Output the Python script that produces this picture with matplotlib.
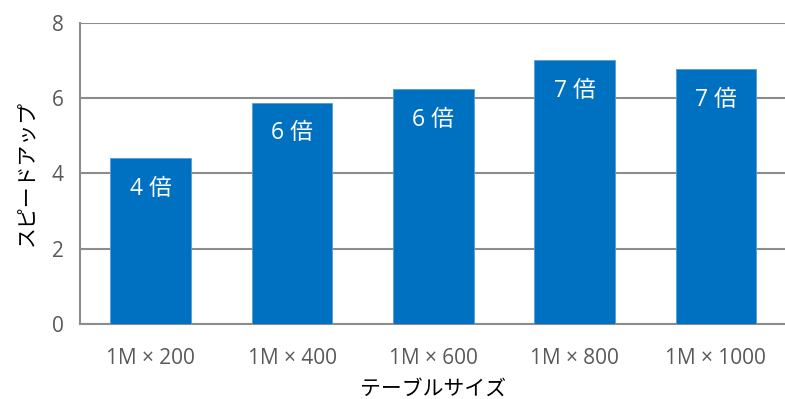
import matplotlib
matplotlib.use("Agg")
import matplotlib.pyplot as plt

plt.rcParams['font.family'] = ['Open Sans', 'Noto Sans CJK JP', 'DejaVu Sans']

categories = ["1M × 200", "1M × 400", "1M × 600", "1M × 800", "1M × 1000"]
speedup = [4.40, 5.88, 6.24, 7.01, 6.77]
labels = ["4 倍", "6 倍", "6 倍", "7 倍", "7 倍"]

fig = plt.figure(figsize=(7.85, 3.99), dpi=100)
ax = fig.add_axes([0.102, 0.188, 0.90, 0.755])

x = range(len(categories))
bars = ax.bar(x, speedup, width=0.57, color="#0070C0", edgecolor="#5B9BD5",
              linewidth=0.6, zorder=3)

for b, lab in zip(bars, labels):
    ax.text(b.get_x() + b.get_width() / 2, b.get_height() - 0.5, lab,
            ha="center", va="top", color="white", fontsize=16.5, zorder=4)

ax.set_xlim(-0.5, len(categories) - 0.5)
ax.set_ylim(0, 8)
ax.set_yticks([0, 2, 4, 6, 8])
ax.set_xticks(list(x))
ax.set_xticklabels(categories)
ax.grid(axis="y", color="#8c8c8c", linewidth=1.5, zorder=0)

for s in ["top", "right"]:
    ax.spines[s].set_visible(False)
for s in ["left", "bottom"]:
    ax.spines[s].set_color("#8c8c8c")
    ax.spines[s].set_linewidth(1.5)

ax.tick_params(axis="both", length=0, labelsize=15, colors="#595959")
ax.tick_params(axis="x", pad=17)
ax.tick_params(axis="y", pad=12)

ax.set_xlabel("テーブルサイズ", fontsize=15, color="black", labelpad=7)
ax.set_ylabel("スピードアップ", fontsize=15, color="black", labelpad=10)

fig.savefig("out.png", dpi=100)
